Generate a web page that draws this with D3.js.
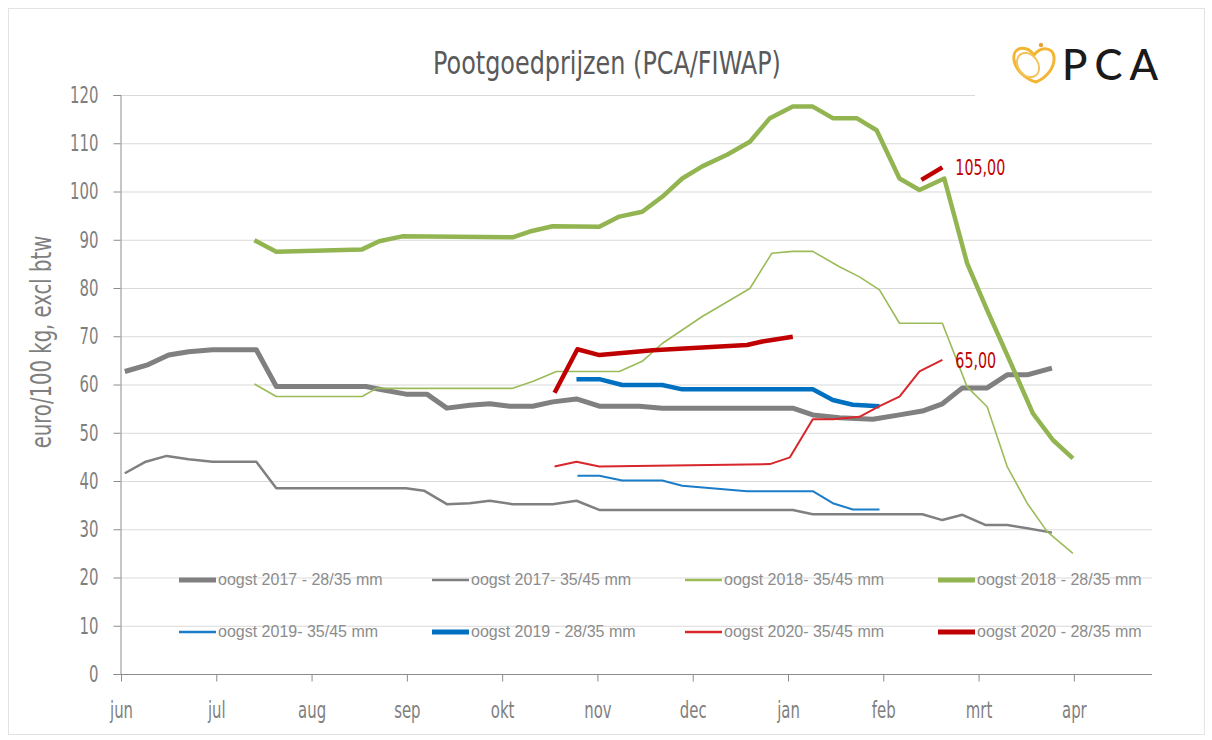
<!DOCTYPE html>
<html>
<head>
<meta charset="utf-8">
<script src="https://cdn.jsdelivr.net/npm/d3@7"></script>
<style>
  body { margin: 0; background: #fff; }
  svg { display: block; }
  .cond { font-family: "DejaVu Sans Condensed", "Liberation Sans Narrow", "Open Sans", sans-serif; }
</style>
</head>
<body>
<svg id="chart" width="1212" height="740"></svg>
<script>
// Pootgoedprijzen chart — x values are month offsets from 1 June

const monthLabels = ['jun', 'jul', 'aug', 'sep', 'okt', 'nov', 'dec', 'jan', 'feb', 'mrt', 'apr'];
const yTicks = [0, 10, 20, 30, 40, 50, 60, 70, 80, 90, 100, 110, 120];

const oogst2017_2835 = [
  [0.04, 62.7], [0.27, 64.0], [0.50, 66.1], [0.71, 66.8], [0.96, 67.2], [1.42, 67.2],
  [1.63, 59.6], [2.57, 59.6], [2.74, 58.9], [2.99, 58.0], [3.21, 58.0], [3.42, 55.1],
  [3.66, 55.7], [3.87, 56.0], [4.08, 55.5], [4.32, 55.5], [4.53, 56.4], [4.78, 57.0],
  [5.02, 55.5], [5.44, 55.5], [5.68, 55.1], [7.05, 55.1], [7.26, 53.7], [7.54, 53.1],
  [7.89, 52.8], [8.17, 53.7], [8.41, 54.5], [8.62, 56.0], [8.83, 59.3], [9.09, 59.3],
  [9.30, 62.0], [9.51, 62.0], [9.77, 63.4]
];
const oogst2017_3545 = [
  [0.04, 41.6], [0.26, 44.0], [0.48, 45.2], [0.71, 44.5], [0.96, 44.0], [1.42, 44.0],
  [1.63, 38.5], [2.99, 38.5], [3.18, 38.0], [3.42, 35.2], [3.66, 35.4], [3.87, 35.9],
  [4.11, 35.2], [4.53, 35.2], [4.78, 35.9], [5.02, 34.0], [7.05, 34.0], [7.26, 33.1],
  [8.41, 33.1], [8.62, 31.9], [8.83, 33.0], [9.07, 30.9], [9.30, 30.9], [9.51, 30.2],
  [9.77, 29.3]
];
const oogst2018_3545 = [
  [1.40, 60.1], [1.63, 57.5], [2.53, 57.5], [2.68, 59.2], [4.11, 59.2], [4.32, 60.6],
  [4.57, 62.7], [5.23, 62.7], [5.47, 64.8], [5.68, 68.5], [6.10, 74.1], [6.60, 79.9],
  [6.83, 87.2], [7.05, 87.6], [7.26, 87.6], [7.54, 84.4], [7.75, 82.3], [7.96, 79.6],
  [8.17, 72.7], [8.62, 72.7], [8.88, 59.5], [9.09, 55.4], [9.30, 43.0], [9.51, 35.4],
  [9.72, 29.5], [9.99, 25.0]
];
const oogst2018_2835 = [
  [1.40, 89.9], [1.63, 87.5], [2.53, 88.0], [2.71, 89.7], [2.95, 90.7], [4.11, 90.5],
  [4.29, 91.7], [4.53, 92.8], [5.02, 92.7], [5.23, 94.8], [5.47, 95.8], [5.68, 98.9],
  [5.89, 102.7], [6.10, 105.2], [6.36, 107.6], [6.60, 110.3], [6.81, 115.2], [7.05, 117.6],
  [7.26, 117.6], [7.47, 115.2], [7.72, 115.2], [7.93, 112.7], [8.17, 102.7], [8.38, 100.3],
  [8.64, 102.7], [8.88, 85.1], [9.09, 75.4], [9.33, 64.8], [9.57, 54.0], [9.78, 48.5],
  [9.99, 44.7]
];
const oogst2019_3545 = [
  [4.79, 41.1], [5.02, 41.1], [5.26, 40.1], [5.68, 40.1], [5.89, 39.0], [6.57, 37.9],
  [7.26, 37.9], [7.47, 35.4], [7.68, 34.1], [7.96, 34.1]
];
const oogst2019_2835 = [
  [4.78, 61.1], [5.02, 61.1], [5.26, 59.9], [5.68, 59.9], [5.89, 59.0], [7.26, 59.0],
  [7.47, 56.8], [7.68, 55.8], [7.96, 55.5]
];
const oogst2020_3545 = [
  [4.55, 43.0], [4.78, 44.0], [5.02, 43.0], [6.81, 43.5], [7.02, 44.9], [7.26, 52.8],
  [7.47, 52.8], [7.75, 53.3], [7.96, 55.5], [8.17, 57.5], [8.38, 62.7], [8.62, 65.1]
];
const oogst2020_2835 = [
  [4.55, 58.3], [4.79, 67.3], [5.02, 66.1], [5.58, 67.1], [6.57, 68.2], [6.73, 68.9],
  [7.05, 69.9], [7.30, null], [8.40, 102.4], [8.62, 105.0]
];

const series = [
  { name: 'oogst 2017 - 28/35 mm', data: oogst2017_2835, color: '#808080', width: 5 },
  { name: 'oogst 2017- 35/45 mm', data: oogst2017_3545, color: '#808080', width: 2.5 },
  { name: 'oogst 2018- 35/45 mm', data: oogst2018_3545, color: '#9bbb59', width: 1.6 },
  { name: 'oogst 2018 - 28/35 mm', data: oogst2018_2835, color: '#92b552', width: 4.5 },
  { name: 'oogst 2019- 35/45 mm', data: oogst2019_3545, color: '#1b7cc8', width: 2 },
  { name: 'oogst 2019 - 28/35 mm', data: oogst2019_2835, color: '#0070c0', width: 4.5 },
  { name: 'oogst 2020- 35/45 mm', data: oogst2020_3545, color: '#d7262c', width: 2 },
  { name: 'oogst 2020 - 28/35 mm', data: oogst2020_2835, color: '#c00000', width: 4.5 }
];

// thin 2017 line sits under the thick one
const drawOrder = [1, 0, 2, 3, 4, 5, 6, 7];

const svg = d3.select('#chart');

const x = d3.scaleLinear().domain([0, 10.82]).range([121, 1152]);
const y = d3.scaleLinear().domain([0, 120]).range([674, 95]);

// squeeze text horizontally (no narrow font available)
function condense(sel, k) {
  sel.each(function() {
    const len = this.getComputedTextLength();
    d3.select(this).attr('textLength', len * k).attr('lengthAdjust', 'spacingAndGlyphs');
  });
}

// outer frame
svg.append('rect')
  .attr('x', 8.5).attr('y', 8.5).attr('width', 1196).attr('height', 726)
  .attr('fill', '#fff').attr('stroke', '#e3e3e3');

// title
svg.append('text')
  .attr('class', 'cond')
  .attr('x', 607).attr('y', 74)
  .attr('text-anchor', 'middle')
  .attr('font-size', 32)
  .attr('fill', '#595959')
  .text('Pootgoedprijzen (PCA/FIWAP)')
  .call(condense, 0.83);

// gridlines
svg.append('g')
  .selectAll('line')
  .data(yTicks.filter(t => t > 0))
  .join('line')
  .attr('x1', 121).attr('x2', 1152)
  .attr('y1', d => y(d) + 0.5).attr('y2', d => y(d) + 0.5)
  .attr('stroke', '#d9d9d9').attr('stroke-width', 1);

// axes
const yAxis = svg.append('g')
  .attr('transform', 'translate(120.5,0)')
  .call(d3.axisLeft(y).tickValues(yTicks).tickSize(7).tickPadding(15));
const xAxis = svg.append('g')
  .attr('transform', 'translate(0,674.5)')
  .call(d3.axisBottom(x).tickValues(d3.range(monthLabels.length))
    .tickFormat(i => monthLabels[i]).tickSize(7).tickPadding(20));

[yAxis, xAxis].forEach(a => {
  a.select('.domain').attr('stroke', '#8c8c8c');
  a.selectAll('.tick line').attr('stroke', '#8c8c8c');
  a.selectAll('text')
    .attr('class', 'cond')
    .attr('font-size', 23)
    .attr('fill', '#7f7f7f')
    .call(condense, 0.72);
});
xAxis.select('.domain').attr('d', 'M121,0H1152');

// y label
svg.append('text')
  .attr('class', 'cond')
  .attr('transform', 'translate(51,342) rotate(-90)')
  .attr('text-anchor', 'middle')
  .attr('font-size', 28)
  .attr('fill', '#7f7f7f')
  .text('euro/100 kg, excl btw')
  .call(condense, 0.78);

// legend
const legend = svg.append('g');
series.forEach((s, i) => {
  const lx = 179 + (i % 4) * 253;
  const ly = 580 + Math.floor(i / 4) * 52;
  legend.append('line')
    .attr('x1', lx).attr('x2', lx + 37)
    .attr('y1', ly).attr('y2', ly)
    .attr('stroke', s.color)
    .attr('stroke-width', s.width >= 4 ? 5 : 2.5);
  legend.append('text')
    .attr('x', lx + 39).attr('y', ly + 5)
    .attr('font-family', 'Liberation Sans, Arial, sans-serif')
    .attr('font-size', 16)
    .attr('fill', '#8c8c8c')
    .text(s.name);
});

// lines
const line = d3.line()
  .defined(d => d[1] !== null)
  .x(d => x(d[0]))
  .y(d => y(d[1]));

svg.append('g')
  .selectAll('path')
  .data(drawOrder.map(i => series[i]))
  .join('path')
  .attr('d', d => line(d.data))
  .attr('fill', 'none')
  .attr('stroke', d => d.color)
  .attr('stroke-width', d => d.width)
  .attr('stroke-linejoin', 'round');

// value labels at the end of the 2020 series
const labels = [
  { point: oogst2020_2835[oogst2020_2835.length - 1], text: '105,00' },
  { point: oogst2020_3545[oogst2020_3545.length - 1], text: '65,00' }
];
svg.append('g')
  .selectAll('text')
  .data(labels)
  .join('text')
  .attr('class', 'cond')
  .attr('x', d => x(d.point[0]) + 13)
  .attr('y', d => y(d.point[1]) + 8)
  .attr('font-size', 22)
  .attr('fill', '#c00000')
  .text(d => d.text)
  .call(condense, 0.72);

// PCA logo
const logo = svg.append('g');
logo.append('rect').attr('x', 975).attr('y', 30).attr('width', 200).attr('height', 68).attr('fill', '#fff');
logo.append('path')
  .attr('d', 'M1034,55 C1026,44 1012,47 1014,60 C1016,72 1028,80 1036,82 C1046,78 1055,68 1054,57 C1053,47 1041,46 1034,55 Z')
  .attr('fill', 'none').attr('stroke', '#f2b632').attr('stroke-width', 3);
logo.append('ellipse')
  .attr('cx', 1028).attr('cy', 65).attr('rx', 10).attr('ry', 13)
  .attr('transform', 'rotate(-35,1028,65)')
  .attr('fill', 'none').attr('stroke', '#f2c45a').attr('stroke-width', 2);
logo.append('circle').attr('cx', 1041).attr('cy', 45).attr('r', 2.2).attr('fill', '#e8a13a');
logo.append('text')
  .attr('x', 1062).attr('y', 80)
  .attr('font-family', 'Lato, "Open Sans", sans-serif')
  .attr('font-size', 42)
  .attr('font-weight', 500)
  .attr('letter-spacing', 7)
  .attr('fill', '#1a1a1a')
  .text('PCA');
</script>
</body>
</html>
